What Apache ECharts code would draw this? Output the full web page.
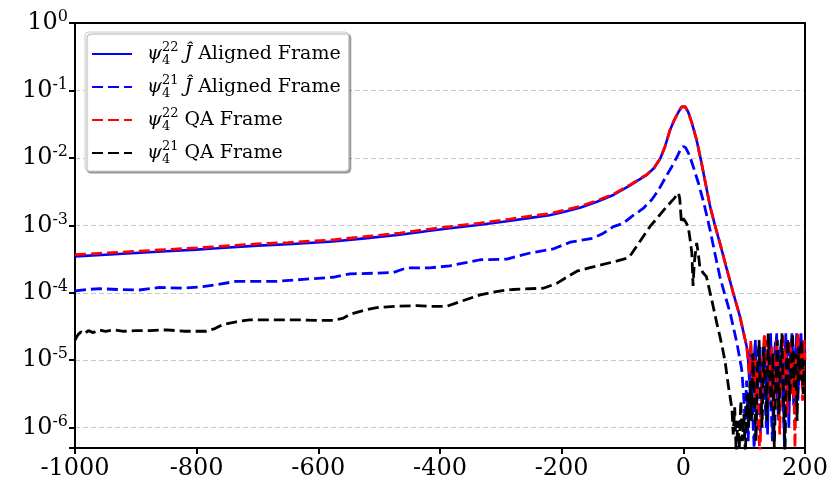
<!DOCTYPE html>
<html><head><meta charset="utf-8">
<script src="https://cdn.jsdelivr.net/npm/echarts@6/dist/echarts.min.js"></script>
<style>html,body{margin:0;padding:0;background:#fff}#c{width:833px;height:489px}</style>
</head><body><div id="c"></div>
<script>
// ---- data ----
const seriesNames = ['psi22_J', 'psi21_J', 'psi22_QA', 'psi21_QA'];
const xTickValues = [-1000, -800, -600, -400, -200, 0, 200];
const yTickExponents = [-6, -5, -4, -3, -2, -1, 0];

// psi4^22, J-hat aligned frame (blue solid)
const xJ22 = [-1000,-950,-900,-850,-800,-767,-700,-650,-576,-520,-466,-417,-380,-334,-290,-252,-220,-197,-170,-142,-115,-88,-74,-60,-48,-38,-30,-22,-15,-8,-3,0,3,8,14,22,30,37,44,52,60,70,82,93,104,
  106,108.5,111,113.5,116,118.5,121,123.5,126,128.5,131,133.5,136,138.5,141,143.5,146,148.5,151,153.5,156,158.5,161,163.5,166,168.5,171,173.5,176,178.5,181,183.5,186,188.5,191,193.5,196,198.5,200];
const yJ22 = [3.47e-4,3.67e-4,3.89e-4,4.12e-4,4.37e-4,4.57e-4,5.01e-4,5.25e-4,5.75e-4,6.46e-4,7.24e-4,8.32e-4,9.12e-4,1.02e-3,1.15e-3,1.29e-3,1.41e-3,1.58e-3,1.82e-3,2.24e-3,2.82e-3,3.89e-3,4.68e-3,5.62e-3,7.08e-3,9.77e-3,1.48e-2,2.57e-2,3.63e-2,4.79e-2,5.69e-2,6.03e-2,5.75e-2,4.79e-2,3.31e-2,1.82e-2,8.32e-3,3.98e-3,1.91e-3,1.0e-3,5.50e-4,2.51e-4,1.0e-4,4.47e-5,1.62e-5,
  1.26e-5,5.0e-6,1.58e-5,3.16e-6,1.0e-5,2.0e-5,2.51e-6,7.94e-6,1.58e-5,1.58e-6,6.31e-6,2.0e-5,3.98e-6,7.94e-7,1.0e-5,2.51e-5,5.0e-6,1.26e-6,1.26e-5,2.51e-5,3.16e-6,1.0e-5,2.0e-5,2.0e-6,7.94e-6,2.51e-5,5.0e-6,1.0e-6,1.26e-5,2.51e-5,3.98e-6,1.0e-5,2.0e-5,2.51e-6,1.58e-5,2.51e-5,6.31e-6,2.0e-5,1.26e-5];

// psi4^21, J-hat aligned frame (blue dashed)
const xJ21 = [-1000,-980,-959,-930,-894,-861,-822,-790,-767,-735,-700,-669,-625,-576,-548,-510,-477,-455,-417,-384,-362,-334,-290,-252,-214,-186,-148,-132,-115,-99,-85,-66,-52,-41,-30,-19,-10,-5,0,4,10,17,25,34,44,52,60,68,77,88,96,
  99,101.5,104,106.5,109,111.5,114,116.5,119,121.5,124,126.5,129,131.5,134,136.5,139,141.5,144,146.5,149,151.5,154,156.5,159,161.5,164,166.5,169,171.5,174,176.5,179,181.5,184,186.5,189,191.5,194,196.5,199];
const yJ21 = [1.07e-4,1.12e-4,1.15e-4,1.12e-4,1.10e-4,1.20e-4,1.17e-4,1.23e-4,1.32e-4,1.48e-4,1.48e-4,1.48e-4,1.58e-4,1.70e-4,1.91e-4,1.95e-4,2.0e-4,2.34e-4,2.34e-4,2.51e-4,2.75e-4,3.09e-4,3.16e-4,3.89e-4,4.47e-4,5.62e-4,6.46e-4,7.59e-4,9.55e-4,1.07e-3,1.35e-3,1.78e-3,2.40e-3,3.31e-3,5.01e-3,7.41e-3,1.05e-2,1.32e-2,1.48e-2,1.41e-2,1.10e-2,7.08e-3,4.17e-3,2.09e-3,8.51e-4,3.80e-4,1.74e-4,9.55e-5,5.01e-5,1.82e-5,7.24e-6,
  3.16e-6,1.26e-6,5.0e-6,6.31e-7,2.51e-6,7.94e-6,1.58e-6,5.0e-7,3.98e-6,1.0e-5,2.0e-6,7.94e-7,6.31e-6,1.58e-5,3.16e-6,1.0e-6,5.0e-6,1.26e-5,2.51e-6,6.31e-7,7.94e-6,2.0e-5,3.98e-6,1.26e-6,1.0e-5,1.58e-5,2.51e-6,5.0e-7,6.31e-6,2.0e-5,3.16e-6,7.94e-6,1.58e-5,2.0e-6,1.0e-5,2.51e-5,3.98e-6,1.26e-5,2.0e-5,5.0e-6,1.58e-5];

// psi4^22, QA frame (red dashed)
const xQA22 = [-1000,-950,-900,-850,-800,-767,-700,-650,-576,-520,-466,-417,-380,-334,-290,-252,-220,-197,-170,-142,-115,-88,-74,-60,-48,-38,-30,-22,-15,-8,-3,0,3,8,14,22,30,37,44,52,60,70,82,93,104,
  106,108.5,111,113.5,116,118.5,121,123.5,126,128.5,131,133.5,136,138.5,141,143.5,146,148.5,151,153.5,156,158.5,161,163.5,166,168.5,171,173.5,176,178.5,181,183.5,186,188.5,191,193.5,196,198.5,200];
const yQA22 = [3.68e-4,3.89e-4,4.12e-4,4.37e-4,4.63e-4,4.84e-4,5.31e-4,5.56e-4,6.09e-4,6.85e-4,7.67e-4,8.82e-4,9.67e-4,1.08e-3,1.22e-3,1.37e-3,1.49e-3,1.67e-3,1.91e-3,2.33e-3,2.90e-3,3.97e-3,4.75e-3,5.68e-3,7.12e-3,9.80e-3,1.48e-2,2.57e-2,3.63e-2,4.79e-2,5.69e-2,6.03e-2,5.75e-2,4.79e-2,3.31e-2,1.82e-2,8.32e-3,3.98e-3,1.91e-3,1.0e-3,5.50e-4,2.51e-4,1.0e-4,4.47e-5,1.62e-5,
  1.58e-5,6.31e-6,2.0e-5,3.98e-6,1.26e-5,2.51e-6,1.0e-5,1.0e-6,3.98e-7,3.16e-6,1.26e-5,2.51e-5,6.31e-6,2.0e-5,2.51e-6,1.0e-5,1.58e-5,2.0e-6,7.94e-6,2.0e-5,3.98e-6,7.94e-7,1.0e-5,2.51e-5,5.0e-6,1.58e-5,1.58e-6,6.31e-6,2.0e-5,3.16e-6,1.0e-5,5.0e-7,1.26e-5,2.51e-5,5.0e-6,1.58e-5,2.51e-6,2.0e-5,1.0e-5];

// psi4^21, QA frame (black dashed)
const xQA21 = [-1000,-995,-990,-985,-978,-970,-960,-950,-935,-920,-900,-877,-850,-820,-800,-784,-770,-757,-735,-713,-680,-640,-600,-576,-560,-548,-525,-504,-470,-438,-417,-389,-360,-334,-300,-280,-230,-208,-190,-175,-155,-132,-110,-93,-88,-70,-55,-40,-27,-15,-8,-6,-5,-3,0,4,8,11,14,16,18,22,25,27,32,38,44,49,55,60,65,69,74,77,80,
  82,84.5,87,89.5,92,94.5,97,99.5,102,104.5,107,109.5,112,114.5,117,119.5,122,124.5,127,129.5,132,134.5,137,139.5,142,144.5,147,149.5,152,154.5,157,159.5,162,164.5,167,169.5,172,174.5,177,179.5,182,184.5,187,189.5,192,194.5,197,199.5];
const yQA21 = [2.0e-5,2.40e-5,2.63e-5,2.45e-5,2.75e-5,2.57e-5,2.82e-5,2.69e-5,2.82e-5,2.69e-5,2.75e-5,2.75e-5,2.82e-5,2.69e-5,2.69e-5,2.69e-5,2.95e-5,3.39e-5,3.72e-5,3.98e-5,3.98e-5,3.98e-5,3.89e-5,3.89e-5,4.17e-5,4.79e-5,5.50e-5,6.03e-5,6.31e-5,6.46e-5,6.31e-5,6.31e-5,7.76e-5,9.33e-5,1.07e-4,1.12e-4,1.17e-4,1.38e-4,1.74e-4,2.09e-4,2.34e-4,2.63e-4,2.95e-4,3.24e-4,3.47e-4,6.03e-4,9.55e-4,1.38e-3,1.91e-3,2.51e-3,3.02e-3,2.51e-3,1.91e-3,1.07e-3,1.26e-3,1.12e-3,9.55e-4,6.31e-4,3.89e-4,1.26e-4,2.82e-4,5.50e-4,3.55e-4,2.45e-4,2.0e-4,1.74e-4,1.0e-4,6.31e-5,3.55e-5,2.29e-5,1.41e-5,9.12e-6,4.17e-6,2.82e-6,1.86e-6,
  7.94e-7,2.0e-6,3.98e-7,1.26e-6,5.0e-7,2.51e-6,6.31e-7,1.58e-6,3.98e-7,3.16e-6,1.0e-6,5.0e-6,1.26e-6,1.26e-5,2.51e-6,6.31e-7,7.94e-6,2.0e-5,3.16e-6,1.0e-6,1.58e-5,5.0e-6,1.26e-6,2.51e-5,6.31e-6,2.0e-6,1.26e-5,5.0e-7,3.98e-6,2.0e-5,1.58e-6,7.94e-6,2.51e-5,3.16e-6,3.98e-7,1.0e-5,2.0e-5,2.51e-6,6.31e-6,2.51e-5,3.98e-6,1.26e-5,1.26e-6,1.58e-5,5.0e-6,2.0e-5,3.16e-6,1.0e-5];

// ---- chart ----
const zip = (xs, ys) => xs.map((x, i) => [x, ys[i]]);
const serif = 'DejaVu Serif';
const legendLabels = {
  psi22_J: '{sp|}{psi|ψ}{sub|4}{sup|22} {j|Ĵ} Aligned Frame',
  psi21_J: '{sp|}{psi|ψ}{sub|4}{sup|21} {j|Ĵ} Aligned Frame',
  psi22_QA: '{sp|}{psi|ψ}{sub|4}{sup|22} QA Frame',
  psi21_QA: '{sp|}{psi|ψ}{sub|4}{sup|21} QA Frame'
};
const chart = echarts.init(document.getElementById('c'), null, {renderer: 'canvas'});
const dash = [11, 5];
const lw = 2.8;
const frameAxis = {show: true, axisLine: {show: true, onZero: false, lineStyle: {color: '#000', width: 2}},
  axisTick: {show: false}, axisLabel: {show: false}, splitLine: {show: false}};
chart.setOption({
  animation: false,
  backgroundColor: '#fff',
  grid: {left: 75, right: 28, top: 23, bottom: 41, show: false},
  legend: {
    orient: 'vertical', left: 85, top: 32,
    backgroundColor: '#fff', borderColor: '#cccccc', borderWidth: 1, borderRadius: 4,
    shadowColor: 'rgba(0,0,0,0.35)', shadowOffsetX: 2, shadowOffsetY: 2, shadowBlur: 1,
    padding: [9, 8, 5, 6],
    itemWidth: 40, itemHeight: 14, itemGap: 7,
    itemStyle: {opacity: 0},
    data: seriesNames,
    formatter: n => legendLabels[n],
    textStyle: {
      fontFamily: serif, fontSize: 19, color: '#000', lineHeight: 26,
      rich: {
        sp: {width: 10},
        psi: {fontFamily: serif, fontSize: 19, fontStyle: 'italic', lineHeight: 26},
        sub: {fontFamily: serif, fontSize: 13, width: 0, verticalAlign: 'bottom', lineHeight: 13},
        sup: {fontFamily: serif, fontSize: 13, verticalAlign: 'top', lineHeight: 13},
        j: {fontFamily: serif, fontSize: 19, fontStyle: 'italic', lineHeight: 26}
      }
    }
  },
  xAxis: [{
    type: 'value', min: xTickValues[0], max: xTickValues[xTickValues.length - 1], interval: 200,
    axisLine: {show: true, onZero: false, lineStyle: {color: '#000', width: 2}},
    axisTick: {show: true, inside: false, length: 6, lineStyle: {color: '#000', width: 2}},
    axisLabel: {fontFamily: serif, fontSize: 24, color: '#000', margin: 9, formatter: v => String(v)},
    splitLine: {show: false}
  }, Object.assign({type: 'value', position: 'top', min: 0, max: 1}, frameAxis)],
  yAxis: [{
    type: 'log', logBase: 10, min: 5e-7, max: Math.pow(10, yTickExponents[yTickExponents.length - 1]), splitNumber: 7,
    axisLine: {show: true, onZero: false, lineStyle: {color: '#000', width: 2}},
    axisTick: {show: true, inside: false, length: 6, lineStyle: {color: '#000', width: 2}},
    axisLabel: {
      margin: 7,
      formatter: v => {
        const e = Math.log10(v), r = Math.round(e);
        if (Math.abs(e - r) > 1e-6 || yTickExponents.indexOf(r) < 0) return '';
        return '{b|10}{s|' + r + '}';
      },
      rich: {
        b: {fontFamily: serif, fontSize: 24, color: '#000', lineHeight: 28},
        s: {fontFamily: serif, fontSize: 16, color: '#000', verticalAlign: 'top', lineHeight: 16}
      }
    },
    splitLine: {show: true, lineStyle: {color: '#c8c8c8', width: 1, type: [5, 3]}}
  }, Object.assign({type: 'value', position: 'right', min: 0, max: 1}, frameAxis)],
  series: [
    {name: 'psi22_J', type: 'line', data: zip(xJ22, yJ22), symbol: 'none', z: 2,
     lineStyle: {color: '#0000ff', width: 2.6, type: 'solid'}, itemStyle: {color: '#0000ff'}},
    {name: 'psi21_J', type: 'line', data: zip(xJ21, yJ21), symbol: 'none', z: 3,
     lineStyle: {color: '#0000ff', width: lw, type: dash}, itemStyle: {color: '#0000ff'}},
    {name: 'psi22_QA', type: 'line', data: zip(xQA22, yQA22), symbol: 'none', z: 4,
     lineStyle: {color: '#ff0000', width: lw, type: dash}, itemStyle: {color: '#ff0000'}},
    {name: 'psi21_QA', type: 'line', data: zip(xQA21, yQA21), symbol: 'none', z: 5,
     lineStyle: {color: '#000000', width: lw, type: dash}, itemStyle: {color: '#000000'}}
  ]
});
</script>
</body></html>
